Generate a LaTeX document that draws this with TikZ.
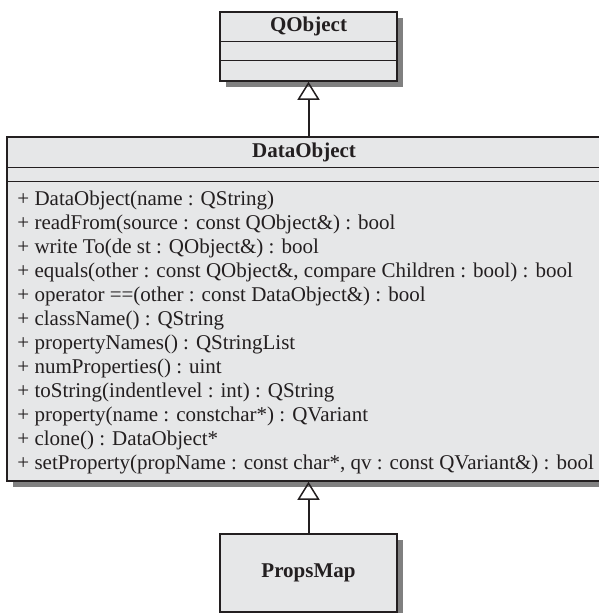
\documentclass[tikz,border=0pt]{standalone}
\usepackage{fontspec}
\setmainfont{Liberation Serif}
\usetikzlibrary{positioning, calc, shadows, arrows.meta}

\definecolor{boxfill}{HTML}{E6E7E8}
\definecolor{boxline}{HTML}{231F20}
\definecolor{shadowgray}{HTML}{808080}

\begin{document}
\begin{tikzpicture}[
    x=1pt, y=1pt,
    node distance=54pt,
    umlbox/.style={rectangle, draw=boxline, fill=boxfill, line width=1.5pt, minimum width=177pt, text=boxline,
        drop shadow={shadow xshift=6pt, shadow yshift=-6pt, fill=shadowgray, opacity=1}},
    classname/.style={font=\fontsize{21}{24}\selectfont\bfseries, text=boxline, inner sep=0pt},
    method/.style={font=\fontsize{21}{24}\selectfont, text=boxline, inner sep=0pt, anchor=base west},
    divider/.style={draw=boxline, line width=1.5pt},
    inherit/.style={draw=boxline, line width=2pt, -{Triangle[open, length=18pt, width=22pt, line width=1.5pt]}}
]
\useasboundingbox (0,0) rectangle (599,-613);

% classes
\node[umlbox, minimum height=69pt] (qobject) at (308.5,-46.5) {};
\node[umlbox, minimum height=344pt, minimum width=594pt, below=54.5pt of qobject, xshift=-4.5pt] (dataobject) {};
\node[umlbox, minimum height=78pt, below=51.5pt of dataobject, xshift=4.5pt, font=\fontsize{21}{24}\selectfont\bfseries] (propsmap) {PropsMap};

% QObject compartments
\node[classname] (qobjectname) at ($(qobject.north)+(0,-15.5)$) {QObject};
\draw[divider] ($(qobject.north west)+(0.75,-30)$) -- ($(qobject.north east)+(-0.75,-30)$);
\draw[divider] ($(qobject.north west)+(0.75,-49)$) -- ($(qobject.north east)+(-0.75,-49)$);

% DataObject compartments
\node[classname] (dataobjectname) at ($(dataobject.north)+(0,-16)$) {DataObject};
\draw[divider] ($(dataobject.north west)+(0.75,-31)$) -- ($(dataobject.north east)+(-0.75,-31)$);
\draw[divider] ($(dataobject.north west)+(0.75,-45)$) -- ($(dataobject.north east)+(-0.75,-45)$);

\foreach \sig [count=\i from 0] in {
    + DataObject(name : QString),
    + readFrom(source : const QObject\&) : bool,
    + write To(de st : QObject\&) : bool,
    {+ equals(other : const QObject\&, compare Children : bool) : bool},
    + operator ==(other : const DataObject\&) : bool,
    + className() : QString,
    + propertyNames() : QStringList,
    + numProperties() : uint,
    + toString(indentlevel : int) : QString,
    + property(name : constchar*) : QVariant,
    + clone() : DataObject*,
    {+ setProperty(propName : const char*, qv : const QVariant\&) : bool}}
    \node[method] (m\i) at ($(dataobject.north west)+(11,{-69-24*\i})$) {\sig};

% generalisation
\draw[inherit] (dataobject.north -| qobject.south) -- (qobject.south);
\draw[inherit] (propsmap.north) -- (dataobject.south -| propsmap.north);

\end{tikzpicture}
\end{document}
